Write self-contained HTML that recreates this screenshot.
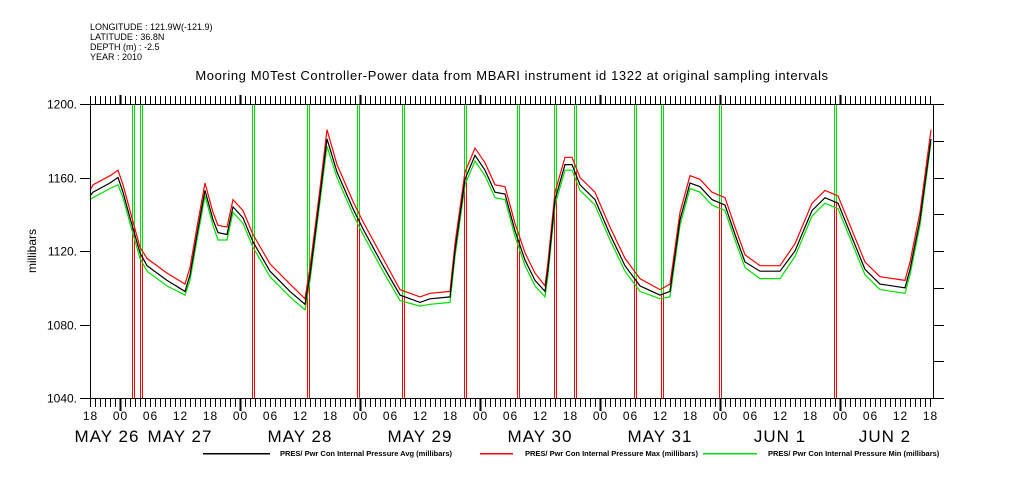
<!DOCTYPE html>
<html><head><meta charset="utf-8"><style>
body{margin:0;background:#fff;width:1009px;height:504px;overflow:hidden}
svg{display:block;font-family:"Liberation Sans",sans-serif}
</style></head><body>
<svg id="chart" width="1009" height="504" xmlns="http://www.w3.org/2000/svg">
<g font-size="9" fill="#000">
<text x="90" y="30">LONGITUDE : 121.9W(-121.9)</text>
<text x="90" y="40">LATITUDE : 36.8N</text>
<text x="90" y="50">DEPTH (m) : -2.5</text>
<text x="90" y="60">YEAR : 2010</text>
</g>
<text x="512" y="80" text-anchor="middle" font-size="13" letter-spacing="0.6">Mooring M0Test Controller-Power data from MBARI instrument id 1322 at original sampling intervals</text>
<text x="36" y="251" font-size="12" text-anchor="middle" transform="rotate(-90 36 251)">millibars</text>
<g id="plot"></g>
</svg>
<script>
const hours=[0,0.6,4,5.6,6.6,8,10,11.4,15.4,19,20,21.4,23,24.6,25.6,27.4,28.6,30.6,32.6,36,40,43,44,46,47.4,49.4,52.6,54.6,58.6,62,66,68,72,73,75,77,79,81,83,85,87,89,91,91.6,93,95,96.4,98,101,104,107,110,114,116,118,120,122,124.4,127,129,131,134,138,141,144.4,147,149.6,152,155,158,163,164,166,168.2];
const avgVals=[1150,1152,1157,1160,1152,1138,1119,1112,1104,1098,1107,1129,1153,1137,1130,1129,1144,1138,1125,1109,1098,1091,1107,1150,1181,1163,1143,1132,1112,1096,1092,1094,1095,1120,1159,1172,1164,1152,1151,1131,1115,1104,1098,1110,1148,1167,1167,1156,1148,1129,1112,1101,1096,1098,1137,1157,1155,1148,1145,1129,1114,1109,1109,1120,1142,1149,1146,1130,1110,1102,1100,1110,1137,1181];
const maxVals=[1153,1156,1161,1164,1156,1142,1122,1116,1108,1102,1111,1133,1157,1141,1134,1133,1148,1142,1129,1113,1102,1094,1111,1154,1186,1167,1147,1136,1116,1099,1095,1097,1098,1124,1163,1176,1168,1156,1155,1135,1119,1108,1101,1114,1152,1171,1171,1160,1152,1133,1116,1105,1099,1102,1141,1161,1159,1152,1149,1133,1118,1112,1112,1124,1146,1153,1150,1134,1114,1106,1104,1114,1141,1186];
const minVals=[1148,1149,1154,1156,1149,1135,1116,1109,1101,1096,1104,1126,1150,1134,1126,1126,1141,1135,1122,1106,1095,1088,1104,1147,1177,1160,1140,1129,1109,1093,1090,1091,1092,1117,1156,1169,1161,1149,1148,1128,1112,1101,1095,1107,1145,1164,1164,1153,1145,1126,1109,1098,1094,1095,1134,1154,1152,1145,1142,1126,1111,1105,1105,1117,1139,1146,1143,1127,1107,1099,1097,1107,1134,1179];
const spikeHours=[8.6,10.2,32.6,43.6,53.6,62.6,75,85.6,93,97,109,114.4,126,149];
const yTicks=[1200,1160,1120,1080,1040];
const xTickLabels=["18","00","06","12"];
const dayLabels=["MAY 26","MAY 27","MAY 28","MAY 29","MAY 30","MAY 31","JUN  1","JUN  2"];
const dayLabelHours=[3.4,18,42,66,90,114,138,159];

const X0=90,X1=933,Y0=104,Y1=398,H=168.6,V0=1040,V1=1200;
const xs=h=>X0+h*(X1-X0)/H;
const ys=v=>Y1-(v-V0)*(Y1-Y0)/(V1-V0);
const NS="http://www.w3.org/2000/svg";
const plot=document.getElementById('plot');
function mk(tag,attrs,parent){const e=document.createElementNS(NS,tag);for(const k in attrs)e.setAttribute(k,attrs[k]);(parent||plot).appendChild(e);return e;}
function interp(h){for(let i=1;i<hours.length;i++){if(h<=hours[i]){const t=(h-hours[i-1])/(hours[i]-hours[i-1]);return avgVals[i-1]+t*(avgVals[i]-avgVals[i-1]);}}return avgVals[avgVals.length-1];}

// spikes
spikeHours.forEach(h=>{
  const x=Math.round(xs(h))+0.5,yc=Math.round(ys(interp(h)));
  [x-1,x+1].forEach(xx=>{
    const g=mk('line',{x1:xx,x2:xx,y1:Y0,y2:yc,stroke:'#00e000','stroke-width':1,'shape-rendering':'crispEdges'});
    
    
    const r=mk('line',{x1:xx,x2:xx,y1:yc,y2:Y1,stroke:'#ff0000','stroke-width':1,'shape-rendering':'crispEdges'});
    
    
  });
});

function series(vals,color,name){
  const p=mk('polyline',{points:hours.map((h,i)=>xs(h).toFixed(1)+','+ys(vals[i]).toFixed(1)).join(' '),fill:'none',stroke:color,'stroke-width':1.2});
  
  
}
series(minVals,'#00e000','min-series-line');
series(maxVals,'#ff0000','max-series-line');
series(avgVals,'#000000','avg-series-line');

// frame
const fr=mk('rect',{x:X0+0.5,y:Y0+0.5,width:X1-X0,height:Y1-Y0,fill:'none',stroke:'#000','stroke-width':1.3,'shape-rendering':'crispEdges'});



// x ticks hourly
for(let h=0;h<=168;h++){
  const x=Math.round(xs(h))+0.5;const major=(h%24)==6;const len=major?13:9;
  const t=mk('line',{x1:x,x2:x,y1:Y1,y2:Y1+len,stroke:'#000','stroke-width':major?2:1,'shape-rendering':'crispEdges'});
  
  
  const t2=mk('line',{x1:x,x2:x,y1:Y0,y2:Y0-(major?9:8),stroke:'#000','stroke-width':major?2:1,'shape-rendering':'crispEdges'});
  
  
  if(h%6==0){
    const lb=mk('text',{x:x,y:Y1+22,'text-anchor':'middle','font-size':12,'letter-spacing':'1'});
    lb.textContent=xTickLabels[(h/6)%4];
    
    
  }
}
dayLabels.forEach((d,i)=>{
  const t=mk('text',{x:xs(dayLabelHours[i]),y:Y1+44,'text-anchor':'middle','font-size':17,'xml:space':'preserve','letter-spacing':'1'});
  t.textContent=d;
  
  
});
// y ticks
for(let v=1040;v<=1200;v+=20){
  const y=Math.round(ys(v))+0.5;
  const t=mk('line',{x1:X1,x2:X1+11,y1:y,y2:y,stroke:'#000','stroke-width':1,'shape-rendering':'crispEdges'});
  
  
}
yTicks.forEach(v=>{
  const y=Math.round(ys(v))+0.5;
  const t=mk('line',{x1:X0-10,x2:X0,y1:y,y2:y,stroke:'#000','stroke-width':1,'shape-rendering':'crispEdges'});
  
  
  const l=mk('text',{x:X0-13,y:y+4,'text-anchor':'end','font-size':12});
  l.textContent=v+'.';
  
  
});
// legend
const leg=[[203,270,'#000000',280,'PRES/ Pwr Con Internal Pressure Avg (millibars)'],[480,513,'#ff0000',525,'PRES/ Pwr Con Internal Pressure Max (millibars)'],[703,757,'#00e000',768,'PRES/ Pwr Con Internal Pressure Min (millibars)']];
leg.forEach(e=>{
  const l=mk('rect',{x:e[0],y:453,width:e[1]-e[0],height:1.5,fill:e[2]});
  
  
  const t=mk('text',{x:e[3],y:456,'font-size':7.5,'font-weight':'bold'});
  t.textContent=e[4];
  
  
});
</script>
</body></html>
